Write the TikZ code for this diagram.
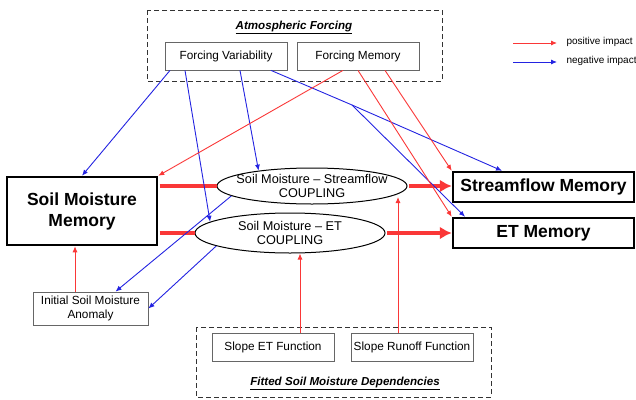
\documentclass[tikz,border=0pt]{standalone}
\usepackage{fontspec}
\setmainfont{Liberation Sans}
\usetikzlibrary{shapes.geometric,arrows.meta}
\definecolor{posred}{RGB}{250,55,55}
\definecolor{negblue}{RGB}{35,35,225}

\begin{document}
\begin{tikzpicture}[x=1pt, y=-1pt, >={Latex[length=6pt,width=5pt]},
  smallbox/.style={draw=black!60, line width=0.8pt, minimum width=122pt, minimum height=28pt, inner sep=2pt, font=\fontsize{11.8}{13.5}\selectfont},
  bigbox/.style={draw, line width=2.5pt, font=\bfseries\fontsize{17.5}{21}\selectfont},
  coupling/.style={ellipse, draw, line width=1pt, minimum width=190pt, inner ysep=0pt, align=center, font=\fontsize{12.7}{14}\selectfont},
  grouptitle/.style={font=\bfseries\itshape\fontsize{11.6}{13}\selectfont},
  legendtext/.style={right, font=\fontsize{10}{12}\selectfont},
  groupbox/.style={draw=black!80, line width=0.8pt, dash pattern=on 5pt off 3pt},
  posarrow/.style={->, posred, line width=0.9pt},
  negarrow/.style={->, negblue, line width=0.9pt},
  couple/.style={posred, line width=4pt, shorten <=1.25pt}]
\useasboundingbox (0,0) rectangle (636,399);
% forcing group
\draw [groupbox] (147,10) rectangle (442,81);
\node [grouptitle] (atmostitle) at (294,27) {\underline{Atmospheric Forcing}};
\node [smallbox] (fvar) at (226,56) {Forcing Variability};
\node [smallbox] (fmem) at (358,56) {Forcing Memory};
% memories and couplings
\node [bigbox, minimum width=150pt, minimum height=68pt, align=center] (smm) at (82,211) {Soil Moisture\\Memory};
\node [smallbox, minimum width=115pt, minimum height=33pt, align=center] (anom) at (90.5,308.5) {Initial Soil Moisture\\Anomaly};
\node [coupling, minimum height=36pt, inner xsep=-9pt] (ell1) at (312,186) {Soil Moisture -- Streamflow\\COUPLING};
\node [coupling, minimum height=40pt] (ell2) at (290,233) {Soil Moisture -- ET\\COUPLING};
\node [bigbox, minimum width=181pt, minimum height=30pt] (sfm) at (543.5,187) {Streamflow Memory};
\node [bigbox, minimum width=181pt, minimum height=30pt] (etm) at (543.5,233) {ET Memory};
% fitted group
\draw [groupbox] (196,327) rectangle (491,397);
\node [smallbox] (sloet) at (273,347) {Slope ET Function};
\node [smallbox] (slorun) at (412,347) {Slope Runoff Function};
\node [grouptitle] (fittitle) at (345,383) {\underline{Fitted Soil Moisture Dependencies}};
% legend
\coordinate (posfrom) at (513,43);
\coordinate (posto) at (557,43);
\coordinate (negfrom) at (513,62);
\coordinate (negto) at (557,62);
\draw [posarrow] (posfrom) -- (posto);
\draw [negarrow] (negfrom) -- (negto);
\node [legendtext] (poslabel) at (563,42) {positive impact};
\node [legendtext] (neglabel) at (563,61) {negative impact};
% coupling arrows
\draw [couple] (smm.east |- ell1.west) -- (ell1.west);
\draw [couple] (smm.east |- ell2.west) -- (ell2.west);
\draw [couple, -{Latex[length=12pt,width=13pt]}] (ell1.east) -- (ell1.east -| sfm.west);
\draw [couple, -{Latex[length=12pt,width=13pt]}] (ell2.east) -- (ell2.east -| etm.west);
% negative impacts
\coordinate (split) at (352,105);
\draw [negarrow] ([xshift=-56pt]fvar.south) -- (smm.north);
\draw [negarrow] ([xshift=-41pt]fvar.south) -- (ell2.172);
\draw [negarrow] ([xshift=14pt]fvar.south) -- (ell1.164);
\draw [negblue, line width=0.9pt] ([xshift=45pt]fvar.south) -- (split);
\draw [negarrow] (split) -- ([xshift=-41.5pt]sfm.north);
\draw [negarrow] (split) -- ([xshift=-78.5pt]etm.north);
\draw [negarrow] (ell1.187) -- ([xshift=25pt]anom.north);
\draw [negarrow] (ell2.190) -- (anom.east);
% positive impacts
\coordinate (runtip) at (398,197);
\draw [posarrow] ([xshift=-15pt]fmem.south) -- (smm.north east);
\draw [posarrow] (fmem.south) -- (etm.north west);
\draw [posarrow] ([xshift=27pt]fmem.south) -- (sfm.north west);
\draw [posarrow] ([xshift=-15.5pt]anom.north) -- ([xshift=-7pt]smm.south);
\draw [posarrow] ([xshift=27pt]sloet.north) -- ([xshift=10pt]ell2.south);
\draw [posarrow] ([xshift=-14pt]slorun.north) -- (runtip);
\end{tikzpicture}
\end{document}
